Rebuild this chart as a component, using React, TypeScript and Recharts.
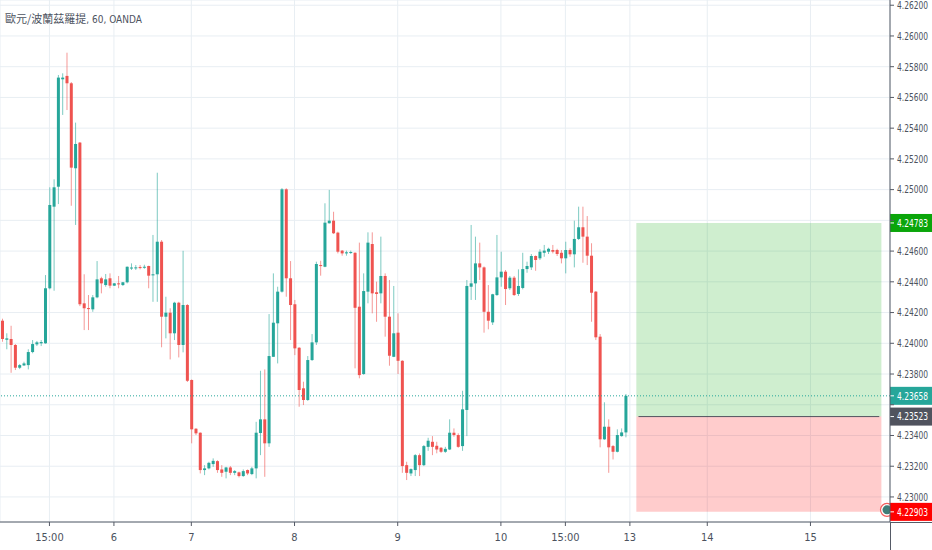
import { ComposedChart, Bar, XAxis, YAxis, CartesianGrid, ReferenceArea, ReferenceLine } from 'recharts';

// hourly EUR/PLN candles
const OPEN = [
  4.24147, 4.24023, 4.24028, 4.23989, 4.23841, 4.23856, 4.23858, 4.23943, 4.23993, 4.24000,
  4.24000, 4.24358, 4.24889, 4.25019, 4.25718, 4.25740, 4.25692, 4.25139, 4.25306, 4.24260,
  4.24229, 4.24221, 4.24299, 4.24423, 4.24379, 4.24423, 4.24375, 4.24390, 4.24379, 4.24397,
  4.24490, 4.24492, 4.24496, 4.24494, 4.24503, 4.24442, 4.24449, 4.24661, 4.24173, 4.24199,
  4.24065, 4.24264, 4.23989, 4.24249, 4.23761, 4.23444, 4.23418, 4.23175, 4.23186, 4.23214,
  4.23233, 4.23179, 4.23164, 4.23192, 4.23157, 4.23160, 4.23136, 4.23175, 4.23149, 4.23186,
  4.23416, 4.23505, 4.23349, 4.23912, 4.24130, 4.24336, 4.25002, 4.24423, 4.24254, 4.23971,
  4.23707, 4.23631, 4.23891, 4.24006, 4.24509, 4.24498, 4.24781, 4.24798, 4.24720, 4.24603,
  4.24585, 4.24589, 4.24589, 4.24238, 4.23800, 4.24336, 4.24646, 4.24332, 4.24325, 4.24438,
  4.24173, 4.23912, 4.24069, 4.23886, 4.23207, 4.23153, 4.23175, 4.23272, 4.23207, 4.23326,
  4.23359, 4.23333, 4.23320, 4.23294, 4.23309, 4.23418, 4.23403, 4.23331, 4.23566, 4.24368,
  4.24390, 4.24520, 4.24494, 4.24205, 4.24136, 4.24314, 4.24429, 4.24466, 4.24358, 4.24427,
  4.24321, 4.24360, 4.24483, 4.24494, 4.24568, 4.24553, 4.24589, 4.24596, 4.24607, 4.24607,
  4.24589, 4.24553, 4.24607, 4.24579, 4.24679, 4.24755, 4.24694, 4.24570, 4.24336, 4.24043,
  4.23375, 4.23457, 4.23331, 4.23294, 4.23396, 4.23420,
];
const HIGH = [
  4.24160, 4.24065, 4.24114, 4.23995, 4.23865, 4.23880, 4.23961, 4.24021, 4.24015, 4.24021,
  4.24444, 4.25015, 4.25067, 4.25746, 4.25757, 4.25891, 4.25700, 4.25436, 4.25310, 4.24449,
  4.24314, 4.24314, 4.24535, 4.24433, 4.24451, 4.24455, 4.24392, 4.24438, 4.24399, 4.24500,
  4.24520, 4.24509, 4.24509, 4.24511, 4.24505, 4.24705, 4.25110, 4.24672, 4.24303, 4.24228,
  4.24270, 4.24270, 4.24602, 4.24255, 4.23765, 4.23448, 4.23420, 4.23207, 4.23229, 4.23251,
  4.23239, 4.23207, 4.23196, 4.23201, 4.23175, 4.23165, 4.23179, 4.23179, 4.23196, 4.23489,
  4.23821, 4.23830, 4.24190, 4.24455, 4.24368, 4.25010, 4.25009, 4.24535, 4.24282, 4.23975,
  4.23750, 4.23917, 4.24060, 4.24531, 4.24537, 4.24911, 4.24998, 4.24856, 4.24726, 4.24607,
  4.24603, 4.24603, 4.24592, 4.24655, 4.24455, 4.24722, 4.24722, 4.24401, 4.24694, 4.24455,
  4.24412, 4.24373, 4.24195, 4.23890, 4.23229, 4.23186, 4.23279, 4.23283, 4.23338, 4.23385,
  4.23396, 4.23359, 4.23325, 4.23326, 4.23505, 4.23446, 4.23414, 4.23691, 4.24412, 4.24770,
  4.24694, 4.24655, 4.24500, 4.24379, 4.24322, 4.24705, 4.24596, 4.24477, 4.24438, 4.24438,
  4.24481, 4.24589, 4.24531, 4.24581, 4.24572, 4.24612, 4.24640, 4.24622, 4.24640, 4.24615,
  4.24607, 4.24661, 4.24618, 4.24798, 4.24889, 4.24889, 4.24828, 4.24651, 4.24340, 4.24060,
  4.23616, 4.23505, 4.23338, 4.23440, 4.23446, 4.23670,
];
const LOW = [
  4.24010, 4.23961, 4.23808, 4.23826, 4.23832, 4.23852, 4.23830, 4.23935, 4.23982, 4.23982,
  4.23997, 4.24351, 4.24342, 4.24906, 4.25486, 4.25518, 4.24895, 4.24770, 4.24242, 4.24086,
  4.24086, 4.24205, 4.24293, 4.24325, 4.24368, 4.24358, 4.24373, 4.24358, 4.24373, 4.24390,
  4.24477, 4.24477, 4.24481, 4.24485, 4.24358, 4.24270, 4.24270, 4.23974, 4.24032, 4.23895,
  4.24021, 4.23908, 4.23941, 4.23748, 4.23349, 4.23403, 4.23153, 4.23142, 4.23179, 4.23196,
  4.23157, 4.23131, 4.23121, 4.23142, 4.23142, 4.23127, 4.23131, 4.23142, 4.23142, 4.23121,
  4.23272, 4.23131, 4.23326, 4.23912, 4.23869, 4.24330, 4.24303, 4.24021, 4.23923, 4.23587,
  4.23598, 4.23625, 4.23885, 4.23989, 4.24440, 4.24495, 4.24779, 4.24711, 4.24585, 4.24570,
  4.24570, 4.24581, 4.23837, 4.23772, 4.23795, 4.24260, 4.24195, 4.24140, 4.24260, 4.24043,
  4.23854, 4.23910, 4.23800, 4.23157, 4.23110, 4.23136, 4.23136, 4.23136, 4.23201, 4.23300,
  4.23272, 4.23284, 4.23287, 4.23287, 4.23305, 4.23392, 4.23320, 4.23300, 4.23396, 4.24282,
  4.24282, 4.24412, 4.24069, 4.24091, 4.24119, 4.24308, 4.24368, 4.24249, 4.24347, 4.24308,
  4.24308, 4.24351, 4.24459, 4.24477, 4.24472, 4.24542, 4.24563, 4.24581, 4.24585, 4.24568,
  4.24520, 4.24455, 4.24563, 4.24494, 4.24672, 4.24524, 4.24509, 4.24140, 4.24021, 4.23323,
  4.23372, 4.23157, 4.23244, 4.23290, 4.23392, 4.23388,
];
const CLOSE = [
  4.24028, 4.24032, 4.23989, 4.23841, 4.23858, 4.23869, 4.23943, 4.23995, 4.24006, 4.24008,
  4.24358, 4.24900, 4.25015, 4.25729, 4.25729, 4.25692, 4.25143, 4.25297, 4.24254, 4.24228,
  4.24225, 4.24299, 4.24416, 4.24390, 4.24416, 4.24375, 4.24390, 4.24386, 4.24397, 4.24498,
  4.24493, 4.24494, 4.24492, 4.24498, 4.24440, 4.24449, 4.24661, 4.24173, 4.24199, 4.24065,
  4.24264, 4.23989, 4.24249, 4.23756, 4.23440, 4.23414, 4.23175, 4.23186, 4.23222, 4.23235,
  4.23175, 4.23157, 4.23192, 4.23157, 4.23168, 4.23136, 4.23168, 4.23153, 4.23186, 4.23418,
  4.23505, 4.23349, 4.23917, 4.24134, 4.24336, 4.25002, 4.24423, 4.24249, 4.23967, 4.23696,
  4.23631, 4.23891, 4.24006, 4.24516, 4.24503, 4.24785, 4.24798, 4.24716, 4.24596, 4.24585,
  4.24592, 4.24594, 4.24231, 4.23793, 4.24340, 4.24655, 4.24325, 4.24321, 4.24438, 4.24173,
  4.23919, 4.24065, 4.23886, 4.23201, 4.23157, 4.23181, 4.23272, 4.23207, 4.23331, 4.23366,
  4.23326, 4.23309, 4.23294, 4.23313, 4.23418, 4.23403, 4.23326, 4.23570, 4.24373, 4.24390,
  4.24520, 4.24494, 4.24205, 4.24147, 4.24319, 4.24429, 4.24466, 4.24353, 4.24427, 4.24314,
  4.24373, 4.24483, 4.24503, 4.24568, 4.24542, 4.24596, 4.24603, 4.24615, 4.24596, 4.24581,
  4.24553, 4.24607, 4.24579, 4.24679, 4.24755, 4.24694, 4.24570, 4.24329, 4.24039, 4.23375,
  4.23457, 4.23323, 4.23294, 4.23403, 4.23420, 4.23658,
];

// empty hourly slots to the right of the last candle
const FUTURE_BARS = 61;

const X_TICKS = [11, 26, 44, 68, 92, 116, 131, 146, 164, 188];
const X_LABELS = ['15:00', '6', '7', '8', '9', '10', '15:00', '13', '14', '15'];

const Y_TICKS = [
  4.230, 4.232, 4.234, 4.236, 4.238, 4.240, 4.242, 4.244, 4.246,
  4.248, 4.250, 4.252, 4.254, 4.256, 4.258, 4.260, 4.262,
];
const Y_DOMAIN = [4.22837, 4.26234];

// long position tool
const LAST_PRICE = 4.23658;
const TARGET = 4.24783;
const ENTRY = 4.23523;
const STOP = 4.22903;
const POSITION_FROM = 148;
const POSITION_TO = 204;
const TAG_PRICES = [TARGET, LAST_PRICE, ENTRY, STOP];

const UP = '#26a69a';
const DOWN = '#ef5350';
const TEXT = '#4c525e';
const AXIS = '#555a66';
const GRID = '#e8eef3';
const AXIS_FONT = "'DejaVu Sans Condensed', sans-serif";

const data = Array.from({ length: OPEN.length + FUTURE_BARS }, (_, i) =>
  i < OPEN.length
    ? { i, open: OPEN[i], high: HIGH[i], low: LOW[i], close: CLOSE[i] }
    : { i }
);

function Candle(props: any) {
  const { x, y, width, height, payload } = props;
  if (payload == null || payload.open == null) return null;
  const { open, high, low, close } = payload;
  const top = Math.min(y, y + height);
  const h = Math.abs(height);
  const ratio = high > low ? h / (high - low) : 0;
  const yOpen = top + (high - open) * ratio;
  const yClose = top + (high - close) * ratio;
  const color = close >= open ? UP : DOWN;
  const cx = x + width / 2;
  const bodyTop = Math.min(yOpen, yClose);
  const bodyH = Math.max(1, Math.abs(yOpen - yClose));
  return (
    <g>
      <line x1={cx} x2={cx} y1={top} y2={top + h} stroke={color} strokeOpacity={0.6} strokeWidth={1} />
      <rect x={x} y={bodyTop} width={width} height={bodyH} fill={color} />
    </g>
  );
}

function PriceTick(props: any) {
  const { x, y, payload } = props;
  const v = Number(payload.value);
  // the coloured price tags sit on top of these labels
  if (TAG_PRICES.some((p) => Math.abs(p - v) < 0.0006)) return null;
  return (
    <text
      x={x}
      y={y}
      dy="0.35em"
      fill={TEXT}
      fontSize={11}
      fontFamily={AXIS_FONT}
      textLength={31}
      lengthAdjust="spacingAndGlyphs"
    >
      {v.toFixed(5)}
    </text>
  );
}

function PriceTag(props: any) {
  const { viewBox, price, fill, marker } = props;
  if (!viewBox) return null;
  const left = viewBox.x + viewBox.width;
  const cy = viewBox.y;
  return (
    <g>
      {marker && (
        <g>
          <circle cx={left - 3} cy={cy - 2} r={6.5} fill="#fff" stroke="#f25c5c" strokeWidth={1.2} />
          <circle cx={left - 3} cy={cy - 2} r={4.5} fill="#3f7d78" />
        </g>
      )}
      <rect x={left} y={cy - 9} width={42} height={18} fill={fill} />
      <line x1={left} x2={left + 4} y1={cy} y2={cy} stroke="#fff" />
      <text
        x={left + 7}
        y={cy}
        dy="0.35em"
        fill="#fff"
        fontSize={11}
        fontFamily={AXIS_FONT}
        textLength={31}
        lengthAdjust="spacingAndGlyphs"
      >
        {price.toFixed(5)}
      </text>
    </g>
  );
}

export default function App() {
  return (
    <div style={{ position: 'relative', width: 932, height: 550, background: '#fff' }}>
      <style>{'body{margin:0}'}</style>
      <ComposedChart
        width={932}
        height={550}
        data={data}
        margin={{ top: 0, right: 0, bottom: 0, left: 0 }}
        barSize={3}
      >
        <CartesianGrid stroke={GRID} />
        <XAxis
          dataKey="i"
          type="category"
          ticks={X_TICKS}
          interval={0}
          tickFormatter={(v) => X_LABELS[X_TICKS.indexOf(Number(v))] ?? ''}
          height={28}
          tickSize={4}
          tickMargin={7}
          stroke={AXIS}
          tick={{ fill: TEXT, fontSize: 11, fontFamily: AXIS_FONT }}
        />
        <YAxis
          orientation="right"
          type="number"
          domain={Y_DOMAIN}
          allowDataOverflow
          ticks={Y_TICKS}
          interval={0}
          width={42}
          tickSize={4}
          tickMargin={3}
          stroke={AXIS}
          tick={<PriceTick />}
        />
        <Bar
          dataKey={(d: any) => (d.open == null ? null : [d.low, d.high])}
          shape={(p: any) => <Candle {...p} />}
          isAnimationActive={false}
        />
        <ReferenceArea
          x1={POSITION_FROM}
          x2={POSITION_TO}
          y1={ENTRY}
          y2={TARGET}
          fill="rgb(0,165,0)"
          fillOpacity={0.19}
          stroke="none"
        />
        <ReferenceArea
          x1={POSITION_FROM}
          x2={POSITION_TO}
          y1={STOP}
          y2={ENTRY}
          fill="rgb(255,0,0)"
          fillOpacity={0.2}
          stroke="none"
        />
        <ReferenceLine
          segment={[{ x: POSITION_FROM, y: ENTRY }, { x: POSITION_TO, y: ENTRY }]}
          stroke="#50535e"
          strokeWidth={1}
        />
        <ReferenceLine y={LAST_PRICE} stroke={UP} strokeDasharray="1 2" label={<PriceTag price={LAST_PRICE} fill={UP} />} />
        <ReferenceLine y={TARGET} stroke="none" label={<PriceTag price={TARGET} fill="#0aa50a" />} />
        <ReferenceLine y={ENTRY} stroke="none" label={<PriceTag price={ENTRY} fill="#50535e" />} />
        <ReferenceLine y={STOP} stroke="none" label={<PriceTag price={STOP} fill="#f00" marker />} />
      </ComposedChart>
      {/* axis lines continue into the corner under the price scale */}
      <div style={{ position: 'absolute', left: 890, top: 522, width: 42, height: 1, background: AXIS }} />
      <div style={{ position: 'absolute', left: 890, top: 522, width: 1, height: 28, background: AXIS }} />
      <div
        style={{
          position: 'absolute',
          left: 5,
          top: 10,
          color: TEXT,
          whiteSpace: 'nowrap',
          lineHeight: '15px',
        }}
      >
        <span style={{ fontFamily: "'Noto Sans CJK TC', sans-serif", fontSize: 11 }}>歐元/波蘭茲羅提</span>
        <span style={{ fontFamily: AXIS_FONT, fontSize: 10 }}>, 60, OANDA</span>
      </div>
    </div>
  );
}
